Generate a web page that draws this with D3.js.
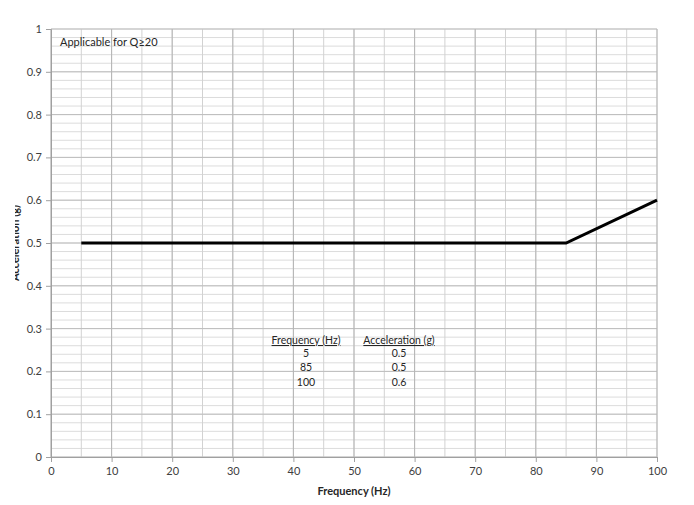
<!DOCTYPE html>
<html lang="en">
<head>
    <meta charset="utf-8">
    <script type="text/javascript" src="https://d3js.org/d3.v7.min.js"></script>
    <style>
        body { margin: 0; background: #fff; }
        text { font-family: Lato, "Open Sans", sans-serif; }
    </style>
</head>
<body>
    <script type="text/javascript">
        let w = 694;
        let h = 505;

        // data
        let freq = [5, 85, 100];
        let accel = [0.5, 0.5, 0.6];
        let freqLabels = ["5", "85", "100"];
        let accelLabels = ["0.5", "0.5", "0.6"];
        let xTicks = [0, 10, 20, 30, 40, 50, 60, 70, 80, 90, 100];
        let yTicks = [0, 0.1, 0.2, 0.3, 0.4, 0.5, 0.6, 0.7, 0.8, 0.9, 1];

        let svg = d3.select("body").append("svg")
            .attr("width", w)
            .attr("height", h);

        let x = d3.scaleLinear().domain([0, 100]).range([51, 657]);
        let y = d3.scaleLinear().domain([0, 1]).range([457, 29]);

        // minor gridlines
        let xMinor = d3.range(0, 101, 5);
        let yMinor = d3.range(0, 51).map(function(i) { return i * 0.02; });

        svg.append("g").selectAll("line")
            .data(yMinor)
            .join("line")
            .attr("x1", x(0)).attr("x2", x(100))
            .attr("y1", function(d) { return y(d); })
            .attr("y2", function(d) { return y(d); })
            .attr("stroke", "#dcdcdc")
            .attr("stroke-width", 1);

        svg.append("g").selectAll("line")
            .data(xMinor)
            .join("line")
            .attr("x1", function(d) { return x(d); })
            .attr("x2", function(d) { return x(d); })
            .attr("y1", y(0)).attr("y2", y(1))
            .attr("stroke", "#d2d2d2")
            .attr("stroke-width", 1);

        // major gridlines
        svg.append("g").selectAll("line")
            .data(yTicks)
            .join("line")
            .attr("x1", x(0)).attr("x2", x(100))
            .attr("y1", function(d) { return y(d); })
            .attr("y2", function(d) { return y(d); })
            .attr("stroke", "#bdbdbd")
            .attr("stroke-width", 1);

        svg.append("g").selectAll("line")
            .data(xTicks)
            .join("line")
            .attr("x1", function(d) { return x(d); })
            .attr("x2", function(d) { return x(d); })
            .attr("y1", y(0)).attr("y2", y(1))
            .attr("stroke", "#b5b5b5")
            .attr("stroke-width", 1);

        // axes
        let xAxis = d3.axisBottom(x).tickValues(xTicks).tickSize(5).tickPadding(5);
        let yAxis = d3.axisLeft(y).tickValues(yTicks).tickSize(5).tickPadding(4)
            .tickFormat(function(d) { return d3.format("")(+d.toFixed(1)); });

        let gx = svg.append("g").attr("transform", "translate(0," + y(0) + ")").call(xAxis);
        let gy = svg.append("g").attr("transform", "translate(" + x(0) + ",0)").call(yAxis);

        [gx, gy].forEach(function(g) {
            g.select(".domain").attr("stroke", "#a0a0a0");
            g.selectAll(".tick line").attr("stroke", "#a0a0a0");
            g.selectAll(".tick text")
                .attr("fill", "#404040")
                .style("font-size", "11px")
                .style("font-family", "Lato, 'Open Sans', sans-serif");
        });

        // data line
        let pts = freq.map(function(f, i) { return [f, accel[i]]; });
        svg.append("path")
            .datum(pts)
            .attr("fill", "none")
            .attr("stroke", "#000")
            .attr("stroke-width", 3)
            .attr("d", d3.line()
                .x(function(d) { return x(d[0]); })
                .y(function(d) { return y(d[1]); }));

        // annotation
        svg.append("text")
            .attr("x", 60).attr("y", 46)
            .attr("fill", "#262626")
            .style("font-size", "11px")
            .text("Applicable for Q\u226520");

        // table in the plot
        let colFreq = 306, colAcc = 399;
        svg.append("text")
            .attr("x", colFreq).attr("y", 344)
            .attr("text-anchor", "middle")
            .attr("text-decoration", "underline")
            .attr("fill", "#262626")
            .style("font-size", "10.5px")
            .text("Frequency (Hz)");
        svg.append("text")
            .attr("x", colAcc).attr("y", 344)
            .attr("text-anchor", "middle")
            .attr("text-decoration", "underline")
            .attr("fill", "#262626")
            .style("font-size", "10.5px")
            .text("Acceleration (g)");

        svg.append("g").selectAll("text")
            .data(freqLabels)
            .join("text")
            .attr("x", colFreq)
            .attr("y", function(d, i) { return 357 + i * 14.3; })
            .attr("text-anchor", "middle")
            .attr("fill", "#262626")
            .style("font-size", "10.5px")
            .text(function(d) { return d; });

        svg.append("g").selectAll("text")
            .data(accelLabels)
            .join("text")
            .attr("x", colAcc)
            .attr("y", function(d, i) { return 357 + i * 14.3; })
            .attr("text-anchor", "middle")
            .attr("fill", "#262626")
            .style("font-size", "10.5px")
            .text(function(d) { return d; });

        // axis titles
        svg.append("text")
            .attr("x", 354).attr("y", 495)
            .attr("text-anchor", "middle")
            .attr("fill", "#262626")
            .style("font-size", "11px")
            .style("font-weight", "bold")
            .text("Frequency (Hz)");

        // y title is cut off at the left edge in the original
        svg.append("clipPath").attr("id", "ycut")
            .append("rect").attr("x", 15).attr("y", 0).attr("width", 30).attr("height", h);
        svg.append("g").attr("clip-path", "url(#ycut)")
            .append("text")
            .attr("transform", "translate(19,243) rotate(-90)")
            .attr("text-anchor", "middle")
            .attr("fill", "#262626")
            .style("font-size", "11px")
            .style("font-weight", "bold")
            .text("Acceleration (g)");
    </script>
</body>
</html>
